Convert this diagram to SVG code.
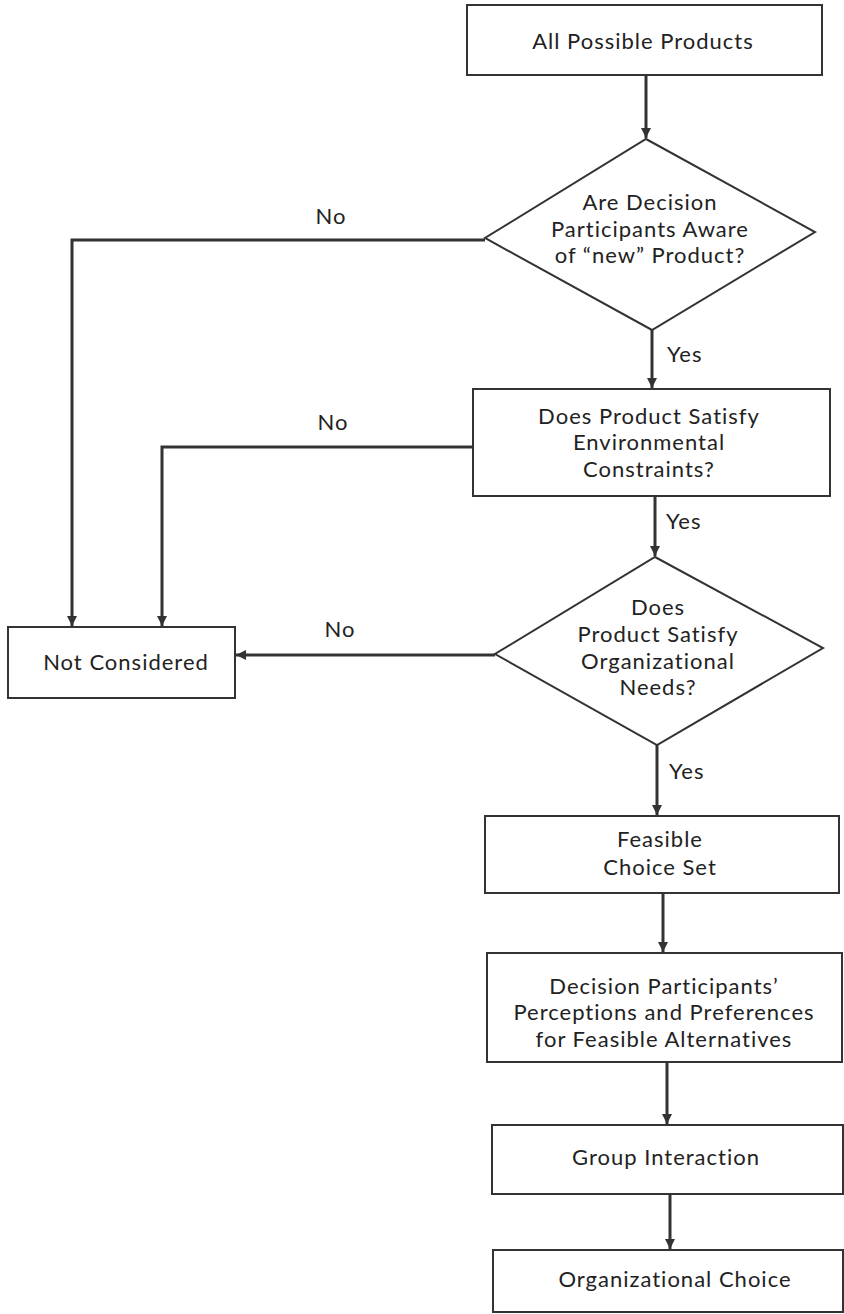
<svg xmlns="http://www.w3.org/2000/svg" width="844" height="1314" viewBox="0 0 844 1314">
<defs>
<marker id="ah" markerWidth="10" markerHeight="12" refX="10" refY="6" orient="auto" markerUnits="userSpaceOnUse">
<path d="M0,1 L10,6 L0,11 Z" fill="#333"/>
</marker>
<style>
.n{fill:#fff;stroke:#333;stroke-width:2}
.t{font-family:Lato,"Open Sans","Liberation Sans",sans-serif;font-size:22px;letter-spacing:1px;fill:#222;text-anchor:middle}
.l{font-family:Lato,"Open Sans","Liberation Sans",sans-serif;font-size:22px;letter-spacing:1px;fill:#222}
.ca{fill:none;stroke:#333;stroke-width:3;marker-end:url(#ah)}
</style>
</defs>
<rect width="844" height="1314" fill="#fff"/>
<g id="connectors">
<path class="ca" d="M646,75 V138"/>
<path class="ca" d="M485,240 H72 V626"/>
<path class="ca" d="M652,330 V388"/>
<path class="ca" d="M473,447 H162 V626"/>
<path class="ca" d="M655,496 V556"/>
<path class="ca" d="M495,655 H236"/>
<path class="ca" d="M657,745 V815"/>
<path class="ca" d="M663,893 V952"/>
<path class="ca" d="M667,1062 V1124"/>
<path class="ca" d="M670,1194 V1249"/>
<text class="l" x="331" y="224" text-anchor="middle">No</text>
<text class="l" x="333" y="430" text-anchor="middle">No</text>
<text class="l" x="340" y="637" text-anchor="middle">No</text>
<text class="l" x="667" y="362">Yes</text>
<text class="l" x="666" y="529">Yes</text>
<text class="l" x="669" y="779">Yes</text>
</g>
<g id="all-possible-products">
<rect class="n" x="467" y="5" width="355" height="70"/>
<text class="t" x="643" y="49">All Possible Products</text>
</g>
<g id="aware-decision">
<polygon class="n" points="646,139 815,232 652,330 485,238"/>
<text class="t" x="650" y="210">Are Decision</text>
<text class="t" x="650" y="237">Participants Aware</text>
<text class="t" x="650" y="263">of “new” Product?</text>
</g>
<g id="environmental">
<rect class="n" x="473" y="389" width="357" height="107"/>
<text class="t" x="649" y="424">Does Product Satisfy</text>
<text class="t" x="649" y="450">Environmental</text>
<text class="t" x="649" y="477">Constraints?</text>
</g>
<g id="organizational-needs">
<polygon class="n" points="655,557 823,648 657,745 495,654"/>
<text class="t" x="658" y="615">Does</text>
<text class="t" x="658" y="642">Product Satisfy</text>
<text class="t" x="658" y="669">Organizational</text>
<text class="t" x="658" y="695">Needs?</text>
</g>
<g id="not-considered">
<rect class="n" x="8" y="627" width="227" height="71"/>
<text class="t" x="126" y="670">Not Considered</text>
</g>
<g id="feasible-choice-set">
<rect class="n" x="485" y="816" width="354" height="77"/>
<text class="t" x="660" y="847">Feasible</text>
<text class="t" x="660" y="875">Choice Set</text>
</g>
<g id="perceptions">
<rect class="n" x="487" y="953" width="355" height="109"/>
<text class="t" x="664" y="994">Decision Participants’</text>
<text class="t" x="664" y="1020">Perceptions and Preferences</text>
<text class="t" x="664" y="1047">for Feasible Alternatives</text>
</g>
<g id="group-interaction">
<rect class="n" x="492" y="1125" width="351" height="69"/>
<text class="t" x="666" y="1165">Group Interaction</text>
</g>
<g id="organizational-choice">
<rect class="n" x="493" y="1250" width="350" height="62"/>
<text class="t" x="675" y="1287">Organizational Choice</text>
</g>
</svg>
